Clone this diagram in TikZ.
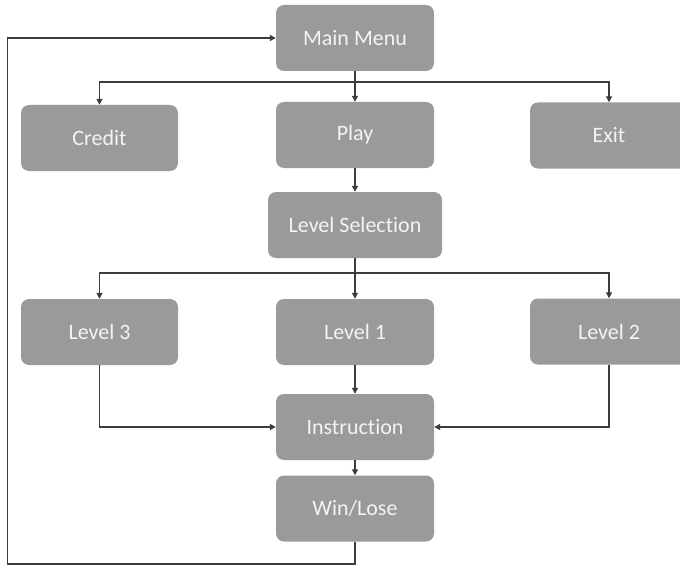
\documentclass[tikz,border=0pt]{standalone}
\usepackage{fontspec}
\setmainfont{Carlito}[Ligatures={NoCommon,NoRare}]
\usetikzlibrary{arrows.meta}
\definecolor{boxgray}{HTML}{9A9A9A}
\definecolor{boxtext}{HTML}{F4F4F4}
\definecolor{linegray}{HTML}{3C3C3C}
\tikzset{
  menubox/.style={rectangle, rounded corners=8pt, fill=boxgray, text=boxtext,
    minimum width=158pt, minimum height=66pt, inner sep=0pt,
    font=\fontsize{22}{25}\selectfont},
  link/.style={draw=linegray, line width=1.4pt,
    -{Triangle[length=6pt,width=6pt]}},
  wire/.style={draw=linegray, line width=1.4pt}
}
\begin{document}
\begin{tikzpicture}[x=1pt,y=-1pt]
\clip (0,0) rectangle (680,567);
\fill[white] (0,0) rectangle (680,567);

% boxes
\node[menubox] (main)  at (355,38)  {Main Menu};
\node[menubox, minimum width=157pt] (credit) at (99.5,138) {Credit};
\node[menubox] (play)  at (355,135) {Play};
\node[menubox] (exit)  at (609,135.5) {Exit};
\node[menubox, minimum width=174pt] (levsel) at (355,225) {Level Selection};
\node[menubox, minimum width=157pt] (lev3) at (99.5,332) {Level 3};
\node[menubox] (lev1)  at (355,332) {Level 1};
\node[menubox] (lev2)  at (609,331.5) {Level 2};
\node[menubox] (instr) at (355,427) {Instruction};
\node[menubox] (win)   at (355,508.5) {Win/Lose};

% bus coordinates
\coordinate (topbus) at (355,82);
\coordinate (midbus) at (355,273);
\coordinate (loop)   at (7.5,564);

% main menu fan-out
\draw[wire] (main.south) -- (topbus);
\draw[link] (topbus) -| (credit.north);
\draw[link] (topbus) -- (play.north);
\draw[link] (topbus) -| (exit.north);

\draw[link] (play.south) -- (levsel.north);

% level fan-out
\draw[wire] (levsel.south) -- (midbus);
\draw[link] (midbus) -| (lev3.north);
\draw[link] (midbus) -- (lev1.north);
\draw[link] (midbus) -| (lev2.north);

% levels into instruction
\draw[link] (lev3.south) |- (instr.west);
\draw[link] (lev2.south) |- (instr.east);
\draw[link] (lev1.south) -- (instr.north);
\draw[link] (instr.south) -- (win.north);

% back to main menu
\draw[link] (win.south) |- (loop) |- (main.west);
\end{tikzpicture}
\end{document}
